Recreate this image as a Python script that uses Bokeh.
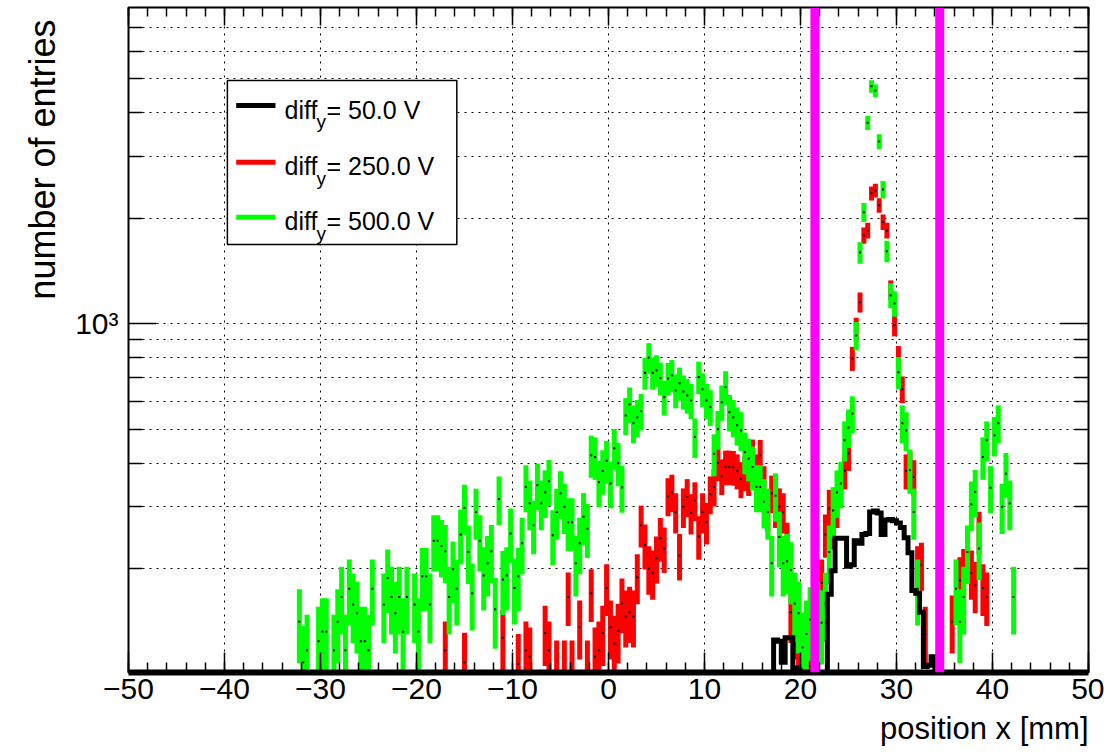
import numpy as np
from bokeh.plotting import figure
from bokeh.models import (ColumnDataSource, FixedTicker, LinearAxis,
                          LogAxis, Range1d, Span, Title)
from bokeh.core.properties import value
from bokeh.embed import file_html
from bokeh.resources import INLINE

# ---------------------------------------------------------------------------
# Histogram contents: 250 bins of 0.4 mm between -50 and 50 mm.
# Each list starts at the bin centre given by *_first; empty bins are 0.
# ---------------------------------------------------------------------------
BIN_WIDTH = 0.4
X_MIN, X_MAX = -50.0, 50.0
Y_MIN, Y_MAX = 101.0, 7990.0

# diff_y = 50 V (drawn as a plain step histogram)
black_first = 17.4
black_counts = [
    125, 124, 108, 127, 127, 104, 102, 0, 0, 0,          # 17.4 .. 21.0
    0, 0, 0, 0, 169, 197, 244, 244, 244, 203,            # 21.4 .. 25.0
    205, 240, 236, 250, 252, 290, 292, 288, 250, 275,    # 25.4 .. 29.0
    276, 274, 270, 262, 245, 222, 173, 170, 150, 105,    # 29.4 .. 33.0
    106, 112,                                            # 33.4 .. 33.8
]

# diff_y = 250 V (error bars, weighted entries)
red_first = -17.0
red_weight = 5.0
red_counts = [
    117, 0, 0, 0, 0, 108, 0, 0, 0, 0,                    # -17.0 .. -13.4
    0, 0, 0, 0, 0, 127, 0, 0, 0, 107,                    # -13.0 .. -9.4
    0, 117, 112, 0, 0, 0, 131, 117, 0, 102,              # -9.0 .. -5.4
    0, 102, 166, 102, 0, 136, 0, 102, 170, 112,          # -5.0 .. -1.4
    117, 131, 176, 136, 122, 133, 159, 146, 150, 146,    # -1.0 .. 2.6
    189, 266, 233, 200, 194, 214, 244, 228, 322, 330,    # 3.0 .. 6.6
    290, 218, 300, 320, 288, 313, 247, 290, 271, 326,    # 7.0 .. 10.6
    342, 400, 367, 390, 390, 389, 380, 360, 376, 365,    # 11.0 .. 14.6
    421, 380, 420, 350, 292, 328, 300, 300, 290, 236,    # 15.0 .. 18.6
    150, 136, 125, 107, 102, 105, 0, 0, 182, 250,        # 19.0 .. 22.6
    297, 263, 300, 340, 380, 426, 796, 970, 1152, 1786,  # 23.0 .. 26.6
    1846, 2355, 2400, 2178, 1950, 1846, 1250, 990, 800, 650,  # 27.0 .. 30.6
    380, 390, 365, 200, 205, 130, 0, 0, 0, 0,            # 31.0 .. 34.6
    0, 0, 141, 0, 185, 196, 228, 194, 179, 255,          # 35.0 .. 38.6
    176, 166,                                            # 39.0 .. 39.4
]

# diff_y = 500 V (error bars, weighted entries)
green_first = -32.2
green_weight = 8.0
green_counts = [
    141, 108, 117, 0, 0, 124, 132, 132, 0, 117,          # -32.2 .. -28.6
    141, 166, 117, 175, 158, 149, 124, 124, 117, 175,    # -28.2 .. -24.6
    0, 0, 158, 188, 166, 149, 166, 132, 166, 0,          # -24.2 .. -20.6
    158, 132, 190, 190, 158, 240, 240, 232, 224, 166,    # -20.2 .. -16.6
    199, 175, 250, 298, 223, 170, 290, 240, 191, 207,    # -16.2 .. -12.6
    224, 153, 316, 186, 191, 252, 176, 190, 236, 342,    # -12.2 .. -8.6
    307, 266, 346, 307, 330, 355, 249, 290, 328, 300,    # -8.2 .. -4.6
    271, 271, 207, 236, 281, 260, 421, 416, 353, 380,    # -4.2 .. -0.6
    406, 350, 441, 400, 341, 547, 589, 520, 540, 563,    # -0.2 .. 3.4
    724, 800, 724, 736, 700, 617, 698, 712, 645, 676,    # 3.8 .. 7.4
    640, 624, 604, 475, 704, 650, 604, 578, 425, 500,    # 7.8 .. 11.4
    597, 659, 559, 540, 513, 496, 430, 412, 390, 342,    # 11.8 .. 15.4
    342, 310, 290, 207, 323, 246, 207, 210, 198, 159,    # 15.8 .. 19.4
    149, 119, 130, 143, 123, 149, 140, 159, 223, 293,    # 19.8 .. 23.4
    330, 350, 465, 505, 554, 925, 1596, 2080, 3745, 4760,  # 23.8 .. 27.4
    4630, 3310, 2414, 1611, 1205, 1142, 727, 520, 496, 382,  # 27.8 .. 31.4
    290, 175, 0, 0, 0, 0, 0, 0, 0, 0,                    # 31.8 .. 35.4
    0, 175, 141, 166, 223, 305, 331, 228, 416, 465,      # 35.8 .. 39.4
    340, 480, 520, 300, 373, 307, 166,                   # 39.8 .. 42.2
]

cut_lines = [21.5, 34.5]
legend_voltages = ["50.0 V", "250.0 V", "500.0 V"]
legend_colors = ["#000000", "#ff0000", "#00ff00"]

x_ticks = list(range(-50, 51, 10))
x_minor = list(range(-50, 51, 2))
y_major = [1000]
y_minor = [200, 300, 400, 500, 600, 700, 800, 900,
           2000, 3000, 4000, 5000, 6000, 7000]

LABEL_FONT = "'Liberation Sans Narrow', 'Liberation Sans', sans-serif"
TEXT_FONT = "Liberation Sans"


def error_bar_source(first, counts, weight):
    c = np.asarray(counts, dtype=float)
    x = first + BIN_WIDTH * np.arange(len(c))
    keep = c > 0
    x, c = x[keep], c[keep]
    err = np.sqrt(weight * c)  # sqrt(sum of w^2) for entries of weight w
    return ColumnDataSource(dict(x=x, y=c, lo=np.maximum(c - err, 1.0), hi=c + err))


p = figure(width=1104, height=752,
           x_range=Range1d(X_MIN, X_MAX), y_range=Range1d(Y_MIN, Y_MAX),
           y_axis_type="log", output_backend="svg", toolbar_location=None,
           min_border_left=128, min_border_right=16,
           min_border_top=7, min_border_bottom=80,
           background_fill_color="white", border_fill_color="white",
           outline_line_color="black", outline_line_width=2)

# ---- axes / ticks / grid ----
xt = FixedTicker(ticks=x_ticks, minor_ticks=x_minor)
yt = FixedTicker(ticks=y_major, minor_ticks=y_minor)

xax = p.xaxis[0]
xax.ticker = xt
xax.major_label_overrides = {t: str(t).replace("-", "\u2212") for t in x_ticks}
xax.major_tick_in, xax.major_tick_out = 20, 0
xax.minor_tick_in, xax.minor_tick_out = 10, 0
xax.major_tick_line_width = 1.5
xax.minor_tick_line_width = 1.5
xax.axis_line_width = 6
xax.major_label_text_font = LABEL_FONT
xax.major_label_text_font_size = "30px"
xax.major_label_text_color = "black"
xax.major_label_standoff = 6

yax = p.yaxis[0]
yax.ticker = yt
yax.major_label_overrides = {1000: "10\u00b3"}
yax.major_tick_in, yax.major_tick_out = 28, 0
yax.minor_tick_in, yax.minor_tick_out = 14, 0
yax.major_tick_line_width = 1.5
yax.minor_tick_line_width = 1.5
yax.axis_line_color = None
yax.major_label_text_font = LABEL_FONT
yax.major_label_text_font_size = "30px"
yax.major_label_text_color = "black"
yax.major_label_standoff = 10

right_axis = LogAxis(ticker=yt, major_label_overrides={1000: ""},
                     major_tick_in=28, major_tick_out=0,
                     minor_tick_in=14, minor_tick_out=0,
                     major_tick_line_width=1.5, minor_tick_line_width=1.5,
                     axis_line_color=None, major_label_standoff=0,
                     major_label_text_font_size="1px")
p.add_layout(right_axis, "right")

top_axis = LinearAxis(ticker=xt, major_label_overrides={t: "" for t in x_ticks},
                      major_tick_in=18, major_tick_out=0,
                      minor_tick_in=9, minor_tick_out=0,
                      major_tick_line_width=1.5, minor_tick_line_width=1.5,
                      axis_line_color=None, major_label_standoff=0,
                      major_label_text_font_size="1px")
p.add_layout(top_axis, "above")

p.xgrid.ticker = xt
p.ygrid.ticker = yt
for g in (p.xgrid, p.ygrid):
    g.grid_line_color = "black"
    g.grid_line_dash = "2 5"
    g.grid_line_width = 1
p.ygrid.minor_grid_line_color = "black"
p.ygrid.minor_grid_line_dash = "2 5"
p.ygrid.minor_grid_line_width = 1

# ---- axis titles (top / right aligned) ----
p.add_layout(Title(text="number of entries", align="right", offset=12,
                   standoff=20, text_font=TEXT_FONT, text_font_size="36px",
                   text_font_style="normal", text_color="black"), "left")
p.add_layout(Title(text="position x [mm]", align="right", standoff=14,
                   text_font=TEXT_FONT, text_font_size="31px",
                   text_font_style="normal", text_color="black"), "below")

# ---- 250 V and 500 V error bars with centre markers ----
for first, counts, weight, color in ((red_first, red_counts, red_weight, "#ff0000"),
                                     (green_first, green_counts, green_weight, "#00ff00")):
    src = error_bar_source(first, counts, weight)
    p.segment(x0="x", y0="lo", x1="x", y1="hi", source=src,
              line_color=color, line_width=5)
    p.scatter(x="x", y="y", source=src, marker="square", size=2,
              fill_color="black", line_color=None)

# ---- 50 V step histogram ----
n_bins = int(round((X_MAX - X_MIN) / BIN_WIDTH))
content = np.zeros(n_bins)
i0 = int(round((black_first - X_MIN) / BIN_WIDTH - 0.5))
content[i0:i0 + len(black_counts)] = black_counts
edges = X_MIN + BIN_WIDTH * np.arange(n_bins + 1)
level = np.where(content > 0, content, Y_MIN)
p.line(x=np.repeat(edges, 2)[1:-1], y=np.repeat(level, 2),
       line_color="black", line_width=5, line_join="miter")

# ---- legend box ----
box_left, box_right, box_bottom, box_top = -39.7, -15.8, 1684.0, 4945.0
rows = [4194.0, 2891.0, 2014.0]
p.quad(left=[box_left], right=[box_right], bottom=[box_bottom], top=[box_top],
       fill_color="white", line_color="black", line_width=1.5)
p.segment(x0=[-38.78] * 3, x1=[-34.69] * 3, y0=rows, y1=rows,
          line_color=legend_colors, line_width=5)
text_x = [-33.75] * 3
p.text(x=text_x, y=rows, text=["diff"] * 3, y_offset=4,
       text_font=value(TEXT_FONT), text_font_size="25px",
       text_baseline="middle", text_align="left", text_color="black")
p.text(x=text_x, y=rows, text=["y"] * 3, x_offset=32, y_offset=16,
       text_font=value(TEXT_FONT), text_font_size="19px",
       text_baseline="middle", text_align="left", text_color="black")
p.text(x=text_x, y=rows, text=["= " + v for v in legend_voltages], x_offset=42, y_offset=4,
       text_font=value(TEXT_FONT), text_font_size="25px",
       text_baseline="middle", text_align="left", text_color="black")

# ---- cut positions ----
for xc in cut_lines:
    p.add_layout(Span(location=xc, dimension="height",
                      line_color="#ff00ff", line_width=9))

open("out.html", "w").write(file_html(p, INLINE))
